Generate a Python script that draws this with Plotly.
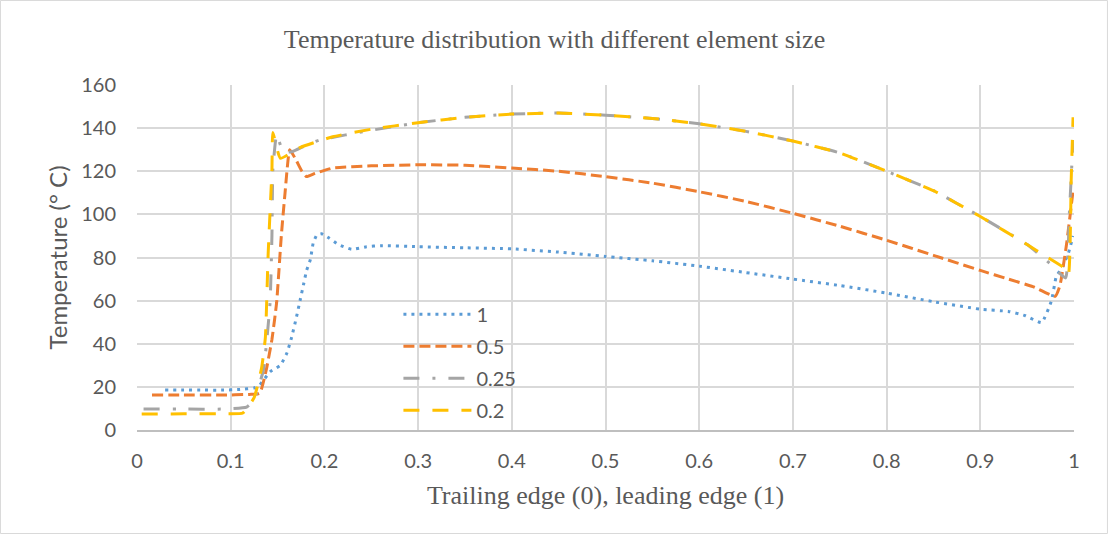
import plotly.graph_objects as go

# Temperature along the chord for four mesh element sizes
x_1 = [0.03, 0.05, 0.07, 0.09, 0.11, 0.125, 0.131, 0.142, 0.153, 0.16, 0.165, 0.17,
       0.174, 0.178, 0.181, 0.185, 0.188, 0.192, 0.197, 0.205, 0.215, 0.229, 0.245,
       0.26, 0.3, 0.35, 0.4, 0.45, 0.5, 0.55, 0.6, 0.65, 0.7, 0.75, 0.8, 0.85, 0.9,
       0.93, 0.948, 0.9655, 0.976, 0.981, 0.988, 0.994, 0.999]
y_1 = [18.5, 18.5, 18.5, 18.5, 18.8, 19.5, 20.9, 27, 30, 35.7, 43, 52,
       60, 68, 74, 79, 86.6, 90.5, 91, 89, 86, 83.8, 85,
       85.5, 85, 84.5, 84, 82.5, 80.5, 78.5, 76, 73, 70, 67, 63.5, 59.5, 56,
       55, 53, 49.8, 60, 71, 76, 82, 90]

x_05 = [0.016, 0.05, 0.09, 0.12, 0.131, 0.138, 0.144, 0.149, 0.154, 0.158, 0.163,
        0.17, 0.176, 0.181, 0.19, 0.209, 0.25, 0.3, 0.35, 0.4, 0.45, 0.5, 0.55,
        0.6, 0.65, 0.7, 0.75, 0.8, 0.85, 0.9, 0.93, 0.956, 0.98, 0.985, 0.992, 0.999]
y_05 = [16.2, 16.2, 16.2, 16.5, 17, 28, 42, 59, 90, 110, 130,
        125, 120, 117.5, 119, 121.5, 122.5, 123, 122.8, 121.5, 120, 117.5, 114.5,
        110.5, 106, 100.5, 94.5, 88, 81, 74, 70, 66.5, 62, 67, 86, 111]

x_025 = [0.007, 0.05, 0.09, 0.117, 0.125, 0.135, 0.142, 0.144, 0.145, 0.149, 0.156,
         0.165, 0.18, 0.195, 0.25, 0.3, 0.35, 0.4, 0.45, 0.5, 0.55, 0.6, 0.65, 0.7,
         0.75, 0.8, 0.85, 0.9, 0.95, 0.975, 0.991, 0.995, 0.999]
y_025 = [9.7, 9.7, 9.7, 10.6, 14, 28, 59, 90, 120.6, 137, 129,
         129, 132, 134.5, 139, 142.5, 145, 146.5, 147, 146, 144.5, 142, 138.5, 134,
         128.5, 120, 111, 99, 86, 77, 70.5, 100, 134.5]

x_02 = [0.005, 0.05, 0.09, 0.113, 0.125, 0.133, 0.137, 0.14, 0.144, 0.145, 0.153,
        0.174, 0.209, 0.25, 0.3, 0.35, 0.4, 0.45, 0.5, 0.55, 0.6, 0.65, 0.7, 0.75,
        0.8, 0.85, 0.9, 0.95, 0.972, 0.988, 0.994, 0.997, 0.999]
y_02 = [7.4, 7.5, 7.6, 7.9, 15, 28.8, 43, 82, 120.6, 138, 126,
        131, 136, 139.5, 142.5, 145, 146.5, 147, 146, 144.5, 142, 138.5, 134, 128.5,
        120, 111, 99, 86, 80, 75.6, 72, 116, 145]

x_ticks = [0, 0.1, 0.2, 0.3, 0.4, 0.5, 0.6, 0.7, 0.8, 0.9, 1]
x_tick_text = ["0", "0.1", "0.2", "0.3", "0.4", "0.5", "0.6", "0.7", "0.8", "0.9", "1"]
y_ticks = [0, 20, 40, 60, 80, 100, 120, 140, 160]

series = [
    ("1", x_1, y_1, "#5b9bd5", "3px,5px"),
    ("0.5", x_05, y_05, "#ed7d31", "11px,5px"),
    ("0.25", x_025, y_025, "#a5a5a5", "16px,13px,3px,13px"),
    ("0.2", x_02, y_02, "#ffc000", "16px,13px"),
]

fig = go.Figure()
for name, xs, ys, color, dash in series:
    fig.add_trace(go.Scatter(
        x=xs, y=ys, name=name, mode="lines", legendgroup=name,
        line=dict(color=color, width=3, dash=dash, shape="spline", smoothing=0.4),
    ))

sans = "Lato, 'Open Sans', sans-serif"
serif = "'Liberation Serif', 'Times New Roman', serif"
grey = "#595959"
grid = "#d9d9d9"

fig.update_layout(
    width=1109, height=534,
    margin=dict(l=137, r=35, t=85, b=104),
    paper_bgcolor="white", plot_bgcolor="white",
    title=dict(text="Temperature distribution with different element size",
               x=0.5, xref="container", y=0.928, yref="container",
               xanchor="center", yanchor="middle",
               font=dict(family=serif, size=26, color=grey)),
    xaxis=dict(range=[0, 1], tickvals=x_ticks, ticktext=x_tick_text,
               showgrid=True, gridcolor=grid, gridwidth=1.5,
               zeroline=False, showline=True, linecolor="#bfbfbf", linewidth=1.5,
               ticks="", ticklabelstandoff=12,
               tickfont=dict(family=sans, size=20, color=grey),
               title=dict(text="Trailing edge (0), leading edge (1)",
                          font=dict(family=serif, size=26, color=grey), standoff=15)),
    yaxis=dict(range=[0, 160], tickvals=y_ticks,
               showgrid=True, gridcolor=grid, gridwidth=1.5,
               zeroline=False, showline=False, ticks="", ticklabelstandoff=20,
               tickfont=dict(family=sans, size=20, color=grey),
               title=dict(text="Temperature (° C)",
                          font=dict(family=sans, size=24, color=grey), standoff=6)),
    legend=dict(x=0.279, y=0.392, xanchor="left", yanchor="top",
                bgcolor="rgba(0,0,0,0)", itemwidth=68, tracegroupgap=3,
                font=dict(family=sans, size=20, color=grey)),
    shapes=[dict(type="rect", xref="paper", yref="paper",
                 x0=-0.1457, x1=1.0357, y0=-0.3, y1=1.245,
                 line=dict(color=grid, width=1), layer="below")],
)

fig.write_html("out.html")
